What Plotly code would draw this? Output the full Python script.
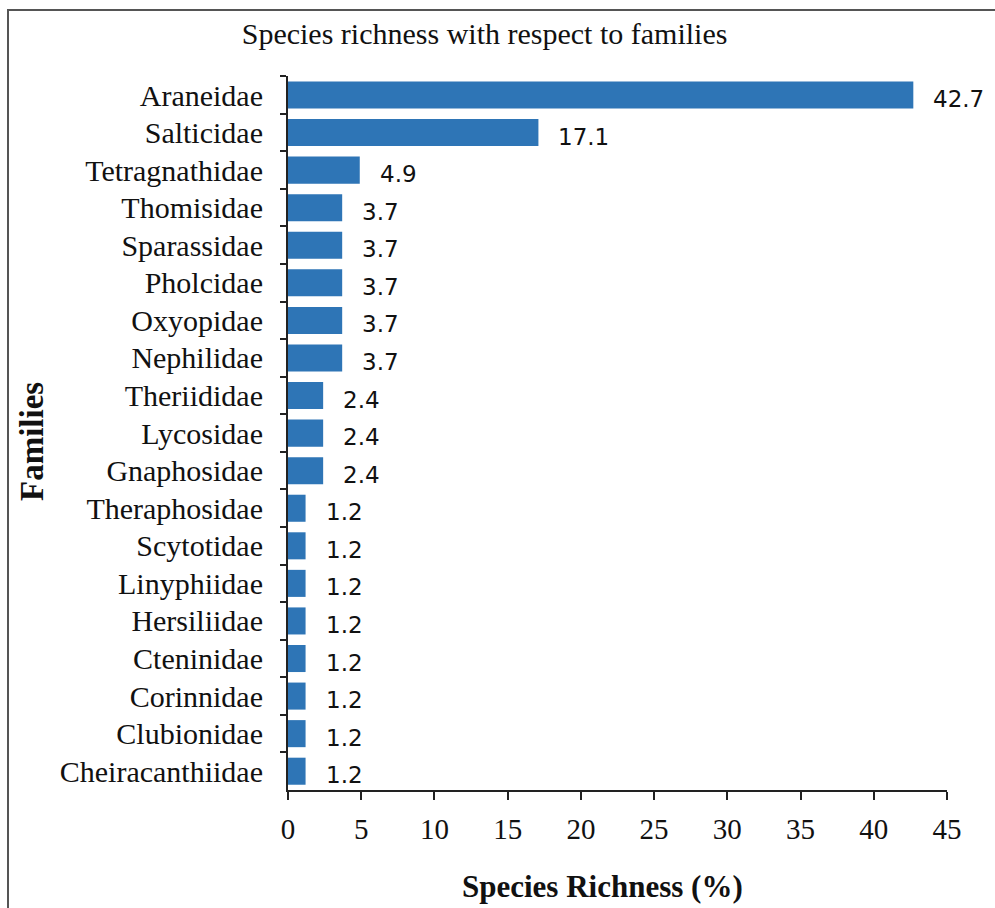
import plotly.graph_objects as go

family_labels = ["Araneidae", "Salticidae", "Tetragnathidae", "Thomisidae", "Sparassidae",
                 "Pholcidae", "Oxyopidae", "Nephilidae", "Theriididae", "Lycosidae",
                 "Gnaphosidae", "Theraphosidae", "Scytotidae", "Linyphiidae", "Hersiliidae",
                 "Cteninidae", "Corinnidae", "Clubionidae", "Cheiracanthiidae"]
richness = [42.7, 17.1, 4.9, 3.7, 3.7, 3.7, 3.7, 3.7, 2.4, 2.4, 2.4,
            1.2, 1.2, 1.2, 1.2, 1.2, 1.2, 1.2, 1.2]
x_ticks = [0, 5, 10, 15, 20, 25, 30, 35, 40, 45]

serif = "Liberation Serif, Times New Roman, serif"
sans = "DejaVu Sans, Verdana, sans-serif"

W, H = 995, 908
L, R, T, B = 288, 48, 76, 118
PW, PH = W - L - R, H - T - B

fig = go.Figure()
fig.add_trace(go.Bar(
    x=richness, y=family_labels, orientation="h",
    marker=dict(color="#2E75B6", line=dict(width=0)),
    hoverinfo="x+y",
))

for lab, v in zip(family_labels, richness):
    fig.add_annotation(x=v, y=lab, xref="x", yref="y", text=f"{v:.1f}",
                       showarrow=False, xanchor="left", yanchor="middle",
                       xshift=18, yshift=-4,
                       font=dict(family=sans, size=23, color="#111"))

fig.update_layout(
    width=W, height=H,
    margin=dict(l=L, r=R, t=T, b=B),
    paper_bgcolor="white", plot_bgcolor="white",
    bargap=0.28,
    showlegend=False,
    font=dict(family=serif, size=22, color="#111"),
    title=dict(text="Species richness with respect to families",
               x=0.487, xanchor="center", y=1 - 33 / H, yanchor="middle",
               font=dict(family=serif, size=30, color="#111")),
    xaxis=dict(range=[0, 45], tickvals=x_ticks, ticktext=[str(t) for t in x_ticks],
               showgrid=False, zeroline=False,
               showline=True, linecolor="#222", linewidth=2,
               ticks="outside", ticklen=8, tickwidth=2, tickcolor="#222",
               ticklabelstandoff=4,
               tickfont=dict(family=serif, size=29, color="#111")),
    yaxis=dict(autorange="reversed", categoryorder="array", categoryarray=family_labels,
               showgrid=False, zeroline=False,
               showline=True, linecolor="#222", linewidth=2,
               ticks="outside", ticklen=6, tickwidth=2, tickcolor="#222",
               tickson="boundaries", ticklabelstandoff=17,
               tickfont=dict(family=serif, size=30, color="#111")),
)

fig.add_annotation(text="<b>Species Richness (%)</b>", xref="paper", yref="paper",
                   x=(602 - L) / PW, y=-(886 - (T + PH)) / PH,
                   xanchor="center", yanchor="middle", showarrow=False,
                   font=dict(family=serif, size=31, color="#111"))
fig.add_annotation(text="<b>Families</b>", xref="paper", yref="paper",
                   x=-(L - 32) / PW, y=((T + PH) - 442) / PH,
                   xanchor="center", yanchor="middle", textangle=-90, showarrow=False,
                   font=dict(family=serif, size=33, color="#111"))

fig.add_shape(type="rect", xref="paper", yref="paper",
              x0=-(L - 8) / PW, x1=(1010 - L) / PW,
              y0=-(930 - (T + PH)) / PH, y1=((T + PH) - 10) / PH,
              line=dict(color="#555", width=2), layer="below")

fig.write_html("out.html")
